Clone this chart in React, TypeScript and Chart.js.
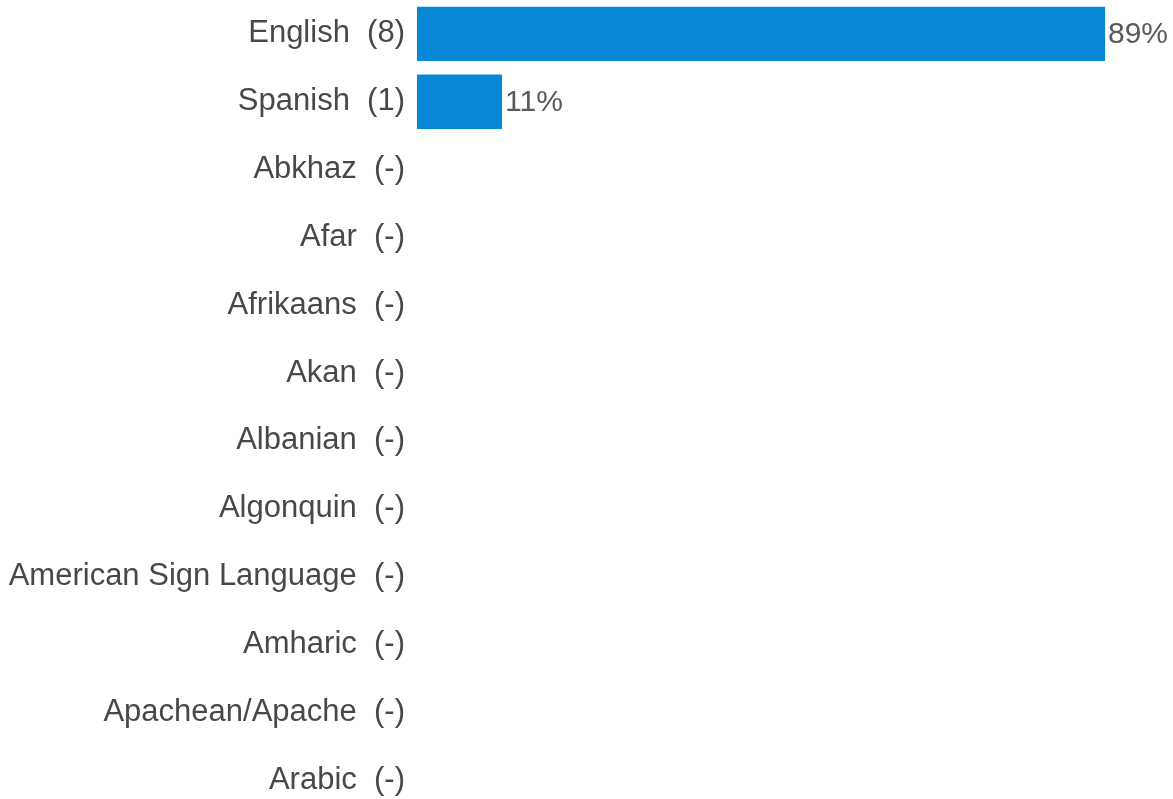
import React, { useEffect, useRef } from "react";
import { Chart, registerables } from "chart.js";

Chart.register(...registerables);

const languages = [
  "English", "Spanish", "Abkhaz", "Afar", "Afrikaans", "Akan", "Albanian",
  "Algonquin", "American Sign Language", "Amharic", "Apachean/Apache", "Arabic",
];
const counts: (number | null)[] = [8, 1, null, null, null, null, null, null, null, null, null, null];
const percents: (number | null)[] = [89, 11, null, null, null, null, null, null, null, null, null, null];
const percentLabels: string[] = ["89%", "11%", "", "", "", "", "", "", "", "", "", ""];

const categoryLabels = languages.map((l, i) => `${l}  (${counts[i] === null ? "-" : counts[i]})`);

const FONT = "'Liberation Sans', Arial, sans-serif";
const LABEL_SIZE = 31;
const VALUE_SIZE = 30;

const valueLabelPlugin = {
  id: "valueLabels",
  afterDatasetsDraw(chart: any) {
    const ctx = chart.ctx;
    const meta = chart.getDatasetMeta(0);
    ctx.save();
    ctx.font = `${VALUE_SIZE}px ${FONT}`;
    ctx.fillStyle = "#595959";
    ctx.textAlign = "left";
    ctx.textBaseline = "middle";
    meta.data.forEach((bar: any, i: number) => {
      const txt = percentLabels[i];
      if (!txt || percents[i] === null) return;
      ctx.fillText(txt, bar.x + 3, bar.y + 1);
    });
    ctx.restore();
  },
};

export default function App() {
  const ref = useRef<HTMLCanvasElement | null>(null);
  useEffect(() => {
    if (!ref.current) return;
    const chart = new Chart(ref.current, {
      type: "bar",
      data: {
        labels: categoryLabels,
        datasets: [
          {
            data: percents,
            backgroundColor: "#0688d4",
            borderWidth: 0,
            categoryPercentage: 0.8,
            barPercentage: 1,
          },
        ],
      },
      options: {
        indexAxis: "y",
        animation: false,
        responsive: false,
        maintainAspectRatio: false,
        layout: { padding: { left: 0, right: 68, top: 0, bottom: 0 } },
        plugins: { legend: { display: false }, tooltip: { enabled: false } },
        scales: {
          x: {
            display: false,
            min: 0,
            max: 89,
          },
          y: {
            grid: { display: false, drawTicks: false },
            border: { display: false },
            ticks: {
              color: "#484848",
              font: { family: FONT, size: LABEL_SIZE },
              padding: 12,
              autoSkip: false,
            },
            afterFit(scale: any) {
              scale.width = 417;
              scale.paddingTop = 0;
              scale.paddingBottom = 0;
            },
          },
        },
      },
      plugins: [valueLabelPlugin],
    });
    return () => chart.destroy();
  }, []);
  return (
    <div style={{ position: "absolute", left: 0, top: 0, width: 1173, height: 814 }}>
      <canvas ref={ref} width={1173} height={814} style={{ display: "block" }} />
    </div>
  );
}
